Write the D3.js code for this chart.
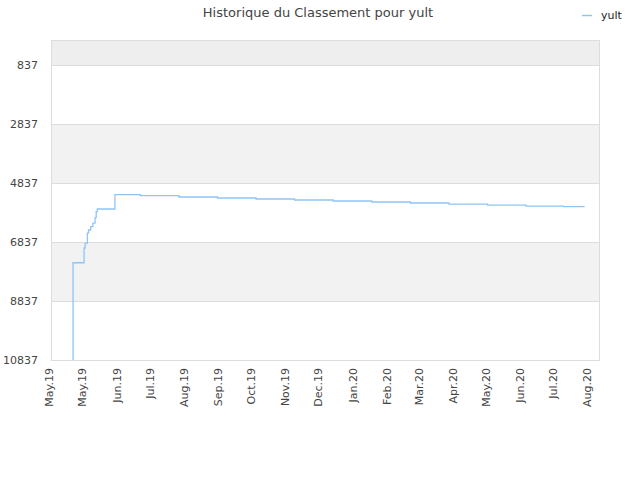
<!DOCTYPE html>
<html>
<head>
<meta charset="utf-8">
<script src="https://cdn.jsdelivr.net/npm/d3@7"></script>
<style>
  body { margin: 0; background: #fff; }
  text { font-family: "DejaVu Sans", sans-serif; }
</style>
</head>
<body>
<div id="chart"></div>
<script>
// rank history for yult (step line, lower = better)
var rankDates = [
  '2019-04-21', '2019-04-21', '2019-05-01', '2019-05-02', '2019-05-04', '2019-05-05',
  '2019-05-07', '2019-05-09', '2019-05-11', '2019-05-12', '2019-05-13', '2019-05-29',
  '2019-06-21', '2019-07-26', '2019-08-30', '2019-10-04', '2019-11-08', '2019-12-13',
  '2020-01-17', '2020-02-21', '2020-03-27', '2020-05-01', '2020-06-05', '2020-07-09',
  '2020-07-28'
];
var rankValues = [
  10837, 7540, 7041, 6872, 6533, 6431,
  6319, 6194, 6014, 5810, 5719, 5234,
  5268, 5312, 5346, 5380, 5414, 5448,
  5482, 5516, 5550, 5584, 5618, 5641,
  5641
];
var yTicks = [837, 2837, 4837, 6837, 8837, 10837];
var xTickDates = [
  '2019-04-01', '2019-05-01', '2019-06-01', '2019-07-01', '2019-08-01', '2019-09-01',
  '2019-10-01', '2019-11-01', '2019-12-01', '2020-01-01', '2020-02-01', '2020-03-01',
  '2020-04-01', '2020-05-01', '2020-06-01', '2020-07-01', '2020-08-01'
];
var xTickLabels = [
  'May.19', 'May.19', 'Jun.19', 'Jul.19', 'Aug.19', 'Sep.19',
  'Oct.19', 'Nov.19', 'Dec.19', 'Jan.20', 'Feb.20', 'Mar.20',
  'Apr.20', 'May.20', 'Jun.20', 'Jul.20', 'Aug.20'
];
var seriesName = 'yult';

var parse = d3.timeParse('%Y-%m-%d');
var data = rankDates.map(function(d, i) { return {date: parse(d), value: rankValues[i]}; });

var width = 640, height = 480;
var margin = {top: 40, right: 40, bottom: 120, left: 51};
var w = width - margin.left - margin.right,
    h = height - margin.top - margin.bottom;

var svg = d3.select('#chart').append('svg')
    .attr('width', width)
    .attr('height', height);

var x = d3.scaleTime()
    .domain([parse('2019-04-01'), parse('2020-08-11')])
    .range([0, w]);
var y = d3.scaleLinear()
    .domain([-10, 10837])
    .range([0, h]);

var g = svg.append('g')
    .attr('transform', 'translate(' + margin.left + ',' + margin.top + ')');

// background bands
var bandEdges = [y.domain()[0]].concat(yTicks);
for (var i = 0; i < bandEdges.length - 1; i++) {
  var fill = i === 0 ? '#eeeeee' : (i % 2 === 0 ? '#f2f2f2' : '#ffffff');
  g.append('rect')
    .attr('x', 0)
    .attr('y', y(bandEdges[i]))
    .attr('width', w)
    .attr('height', y(bandEdges[i + 1]) - y(bandEdges[i]))
    .attr('fill', fill);
}

// grid lines
g.selectAll('.grid')
  .data(yTicks)
  .enter().append('line')
    .attr('x1', 0).attr('x2', w)
    .attr('y1', function(d) { return y(d) + 0.5; })
    .attr('y2', function(d) { return y(d) + 0.5; })
    .attr('stroke', '#dddddd');

// frame
g.append('rect')
  .attr('x', 0.5).attr('y', 0.5)
  .attr('width', w - 1).attr('height', h)
  .attr('fill', 'none')
  .attr('stroke', '#dddddd');

// y axis
var yAxis = d3.axisLeft(y).tickValues(yTicks).tickSize(0).tickPadding(13)
    .tickFormat(d3.format('d'));
var ya = g.append('g').call(yAxis);
ya.select('.domain').remove();
ya.selectAll('text')
  .attr('fill', '#444')
  .style('font-size', '11px');

// x axis
var xAxis = d3.axisBottom(x)
    .tickValues(xTickDates.map(parse))
    .tickSize(0)
    .tickFormat(function(d, i) { return xTickLabels[i]; });
var xa = g.append('g')
    .attr('transform', 'translate(0,' + h + ')')
    .call(xAxis);
xa.select('.domain').remove();
xa.selectAll('text')
  .attr('fill', '#444')
  .style('font-size', '11px')
  .attr('text-anchor', 'end')
  .attr('transform', 'rotate(-90)')
  .attr('x', -8)
  .attr('y', -2)
  .attr('dy', '0.35em');

// line
var line = d3.line()
    .x(function(d) { return x(d.date); })
    .y(function(d) { return y(d.value); })
    .curve(d3.curveStepAfter);

g.append('path')
  .datum(data)
  .attr('d', line)
  .attr('fill', 'none')
  .attr('stroke', '#90c4f7')
  .attr('stroke-width', 1.3);

// title
svg.append('text')
  .attr('x', 318)
  .attr('y', 17)
  .attr('text-anchor', 'middle')
  .attr('fill', '#444')
  .style('font-size', '13px')
  .text('Historique du Classement pour ' + seriesName);

// legend
svg.append('line')
  .attr('x1', 582).attr('x2', 592)
  .attr('y1', 15.5).attr('y2', 15.5)
  .attr('stroke', '#90c4f7')
  .attr('stroke-width', 1.5);
svg.append('text')
  .attr('x', 601)
  .attr('y', 19)
  .attr('fill', '#222')
  .style('font-size', '11px')
  .text(seriesName);
</script>
</body>
</html>
